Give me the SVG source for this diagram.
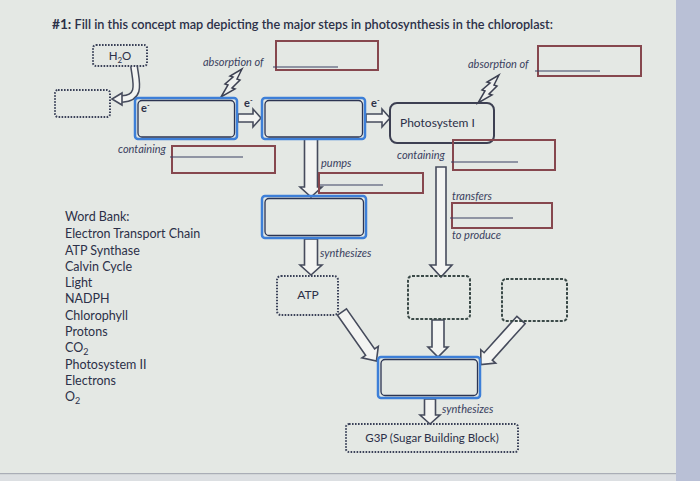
<svg xmlns="http://www.w3.org/2000/svg" width="700" height="481" viewBox="0 0 700 481">
<style>
  text { font-family: Lato, "Liberation Sans", sans-serif; fill: #2c3048; }
  .lab { font-size: 11px; font-style: italic; fill: #3a3f60; }
  .wb { font-size: 12.5px; }
  .red { fill: none; stroke: #86474e; stroke-width: 2; }
  .ul { stroke: #3b4062; stroke-width: 1.2; }
  .blueO { fill: none; stroke: #3d7fd8; stroke-width: 2.5; }
  .blueI { fill: none; stroke: #2c3452; stroke-width: 1.3; }
  .dot { fill: none; stroke: #3a4158; stroke-width: 2; stroke-dasharray: 1.6 1.4; }
  .dash { fill: none; stroke: #3b4a48; stroke-width: 2; stroke-dasharray: 3 1.5; }
  .psi { fill: none; stroke: #3d4052; stroke-width: 2; }
  .arr { fill: #f3f4f2; stroke: #464b5c; stroke-width: 1.6; stroke-linejoin: miter; }
  .bolt { fill: #eef0ee; stroke: #3d4152; stroke-width: 1.5; stroke-linejoin: miter; }
</style>
<rect x="0" y="0" width="700" height="481" fill="#e4e8e4"/>
<rect x="676" y="0" width="24" height="481" fill="#b9c0d6"/>
<rect x="0" y="473" width="676" height="1.5" fill="#a9adb6"/>
<rect x="0" y="474.5" width="676" height="6.5" fill="#dcdfe2"/>

<text x="52" y="29" font-size="13" font-weight="600" textLength="501" lengthAdjust="spacingAndGlyphs"><tspan font-weight="bold" font-size="14">#1:</tspan> Fill in this concept map depicting the major steps in photosynthesis in the chloroplast:</text>

<g id="connectors">
  <path d="M134 66 C 136 82, 142 98, 122 99" fill="none" stroke="#464b5c" stroke-width="8"/>
  <path d="M134 66 C 136 82, 142 98, 122 99" fill="none" stroke="#f3f4f2" stroke-width="5"/>
  <polygon class="arr" points="122,93 112,99 122,105"/>
  <polygon class="arr" transform="translate(238,118)" points="0,-4 15,-4 15,-9 23,0 15,9 15,4 0,4"/>
  <text x="244" y="107" font-size="11" font-weight="bold">e<tspan dy="-4" font-size="7">-</tspan></text>
  <polygon class="arr" transform="translate(366,118)" points="0,-4 16,-4 16,-9 24,0 16,9 16,4 0,4"/>
  <text x="371" y="107" font-size="11" font-weight="bold">e<tspan dy="-4" font-size="7">-</tspan></text>
  <polygon class="arr" transform="translate(311,139) rotate(90)" points="0,-6.5 48,-6.5 48,-11 58,0 48,11 48,6.5 0,6.5"/>
  <polygon class="arr" transform="translate(311,239) rotate(90)" points="0,-6.5 26,-6.5 26,-11 36,0 26,11 26,6.5 0,6.5"/>
  <polygon class="arr" transform="translate(441,167) rotate(90)" points="0,-5 98,-5 98,-11 110,0 98,11 98,5 0,5"/>
  <polygon class="arr" transform="translate(342,312) rotate(55)" points="0,-5.5 49,-5.5 49,-10 60,0 49,10 49,5.5 0,5.5"/>
  <polygon class="arr" transform="translate(438,320) rotate(90)" points="0,-6 27,-6 27,-10 37,0 27,10 27,6 0,6"/>
  <polygon class="arr" transform="translate(521,320) rotate(132)" points="0,-5.5 49,-5.5 49,-10 60,0 49,10 49,5.5 0,5.5"/>
  <polygon class="arr" transform="translate(430,399) rotate(90)" points="0,-5.5 16,-5.5 16,-10 25,0 16,10 16,5.5 0,5.5"/>
  <polygon class="bolt" transform="translate(221,97)" points="0,0 7,-12 4,-13 12,-20 9,-21 21,-28 16,-18 19,-17 11,-9 14,-8"/>
  <polygon class="bolt" transform="translate(478,103)" points="0,0 7,-12 4,-13 12,-20 9,-21 21,-28 16,-18 19,-17 11,-9 14,-8"/>
  <text class="lab" x="321" y="167">pumps</text>
  <text class="lab" x="320" y="257">synthesizes</text>
  <text class="lab" x="452" y="200">transfers</text>
  <text class="lab" x="452" y="239">to produce</text>
  <text class="lab" x="442" y="413">synthesizes</text>
</g>

<g id="h2o">
  <rect class="dot" x="93" y="45" width="54" height="21" rx="3"/>
  <text x="120" y="60" font-size="11.5" text-anchor="middle">H<tspan font-size="8" dy="3">2</tspan><tspan dy="-3">O</tspan></text>
</g>
<g id="o2-blank">
  <rect class="dot" x="55" y="90" width="55" height="27" rx="3"/>
</g>
<g id="ps2-blank">
  <rect class="blueO" x="135" y="98" width="102" height="41" rx="3"/>
  <rect class="blueI" x="138" y="100.5" width="96.5" height="36.5" rx="4"/>
  <text x="141" y="112" font-size="11" font-weight="bold">e<tspan dy="-4" font-size="7">-</tspan></text>
</g>
<g id="absorb1">
  <text class="lab" x="203" y="66">absorption of</text>
  <rect class="red" x="276" y="41" width="102" height="29"/>
  <line class="ul" x1="273" y1="67" x2="338" y2="67"/>
</g>
<g id="contain1">
  <text class="lab" x="118" y="153">containing</text>
  <rect class="red" x="172" y="146" width="103" height="27"/>
  <line class="ul" x1="170" y1="157" x2="243" y2="157"/>
</g>
<g id="etc-blank">
  <rect class="blueO" x="262" y="98" width="103" height="41" rx="3"/>
  <rect class="blueI" x="265" y="100.5" width="97.5" height="36.5" rx="4"/>
</g>
<g id="ps1">
  <rect class="psi" x="390" y="103" width="104" height="40" rx="7"/>
  <text x="400" y="127" font-size="12">Photosystem I</text>
</g>
<g id="absorb2">
  <text class="lab" x="468" y="68">absorption of</text>
  <rect class="red" x="538" y="46" width="103" height="30"/>
  <line class="ul" x1="535" y1="71" x2="600" y2="71"/>
</g>
<g id="contain2">
  <text class="lab" x="397" y="159">containing</text>
  <rect class="red" x="453" y="140" width="102" height="30"/>
  <line class="ul" x1="451" y1="162" x2="518" y2="162"/>
</g>
<g id="pumps-blank">
  <rect class="red" x="319" y="173" width="104" height="20"/>
  <line class="ul" x1="320" y1="185" x2="383" y2="185"/>
</g>
<g id="atp-synthase-blank">
  <rect class="blueO" x="262" y="196" width="104" height="42" rx="3"/>
  <rect class="blueI" x="265" y="198.5" width="98.5" height="37" rx="4"/>
</g>
<g id="transfers-blank">
  <rect class="red" x="452" y="203" width="100" height="25"/>
  <line class="ul" x1="450" y1="218" x2="513" y2="218"/>
</g>
<g id="atp">
  <rect class="dot" x="277" y="276" width="61" height="39" rx="4"/>
  <text x="308" y="299" font-size="12" text-anchor="middle">ATP</text>
</g>
<g id="nadph-blank">
  <rect class="dash" x="408" y="276" width="62" height="43" rx="4"/>
</g>
<g id="co2-blank">
  <rect class="dash" x="502" y="279" width="65" height="42" rx="4"/>
</g>
<g id="calvin-blank">
  <rect class="blueO" x="378" y="357" width="102" height="41" rx="3"/>
  <rect class="blueI" x="381" y="359.5" width="96.5" height="36" rx="4"/>
</g>
<g id="g3p">
  <rect class="dot" x="346" y="424" width="172" height="28" rx="3"/>
  <text x="432" y="442" font-size="11.5" text-anchor="middle">G3P (Sugar Building Block)</text>
</g>

<g id="word-bank" class="wb">
  <text class="wb" x="65" y="221">Word Bank:</text>
  <text class="wb" x="65" y="238">Electron Transport Chain</text>
  <text class="wb" x="65" y="255">ATP Synthase</text>
  <text class="wb" x="65" y="271">Calvin Cycle</text>
  <text class="wb" x="65" y="287">Light</text>
  <text class="wb" x="65" y="303">NADPH</text>
  <text class="wb" x="65" y="320">Chlorophyll</text>
  <text class="wb" x="65" y="336">Protons</text>
  <text class="wb" x="65" y="352">CO<tspan font-size="9" dy="3">2</tspan></text>
  <text class="wb" x="65" y="369">Photosystem II</text>
  <text class="wb" x="65" y="385">Electrons</text>
  <text class="wb" x="65" y="401">O<tspan font-size="9" dy="3">2</tspan></text>
</g>
</svg>
